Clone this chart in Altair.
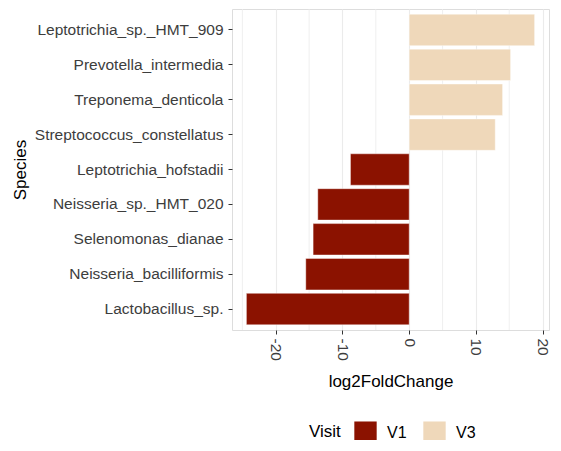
import altair as alt
import pandas as pd

species = [
    "Leptotrichia_sp._HMT_909",
    "Prevotella_intermedia",
    "Treponema_denticola",
    "Streptococcus_constellatus",
    "Leptotrichia_hofstadii",
    "Neisseria_sp._HMT_020",
    "Selenomonas_dianae",
    "Neisseria_bacilliformis",
    "Lactobacillus_sp.",
]
log2fc = [18.8, 15.2, 14.0, 12.9, -8.8, -13.7, -14.4, -15.5, -24.4]
visit = ["V3", "V3", "V3", "V3", "V1", "V1", "V1", "V1", "V1"]

major_ticks = [-20, -10, 0, 10, 20]
minor_ticks = [-25, -15, -5, 5, 15]
x_domain = [-26.56, 20.96]

visit_levels = ["V1", "V3"]
visit_colors = ["#8B1200", "#EFD8BA"]

df = pd.DataFrame({"Species": species, "log2FoldChange": log2fc, "Visit": visit})
minor_df = pd.DataFrame({"v": minor_ticks})

FONT = "Liberation Sans"
W, H = 317, 321

xscale = alt.Scale(domain=x_domain, nice=False, zero=False)
xaxis = alt.Axis(
    values=major_ticks,
    labelExpr="'' + datum.value",
    title="log2FoldChange",
    titleFontSize=17,
    titleFontWeight="normal",
    titleColor="black",
    titleY=51,
    titleBaseline="middle",
    labelFontSize=15.5,
    labelColor="#3D3D3D",
    labelAngle=90,
    labelAlign="left",
    labelBaseline="middle",
    labelPadding=4,
    tickSize=4,
    tickColor="#333333",
    gridColor="#EBEBEB",
    gridWidth=1.1,
    domain=False,
)

minor = alt.Chart(minor_df).mark_rule(color="#EBEBEB", strokeWidth=0.8).encode(
    x=alt.X("v:Q", scale=xscale, axis=xaxis, title="log2FoldChange")
)

bars = alt.Chart(df).mark_bar(stroke="white", strokeWidth=0.4).encode(
    y=alt.Y(
        "Species:N",
        sort=species,
        scale=alt.Scale(paddingInner=0.1, paddingOuter=0.15),
        axis=alt.Axis(
            title="Species",
            titleFontSize=17,
            titleFontWeight="normal",
            titleColor="black",
            titleX=-212,
            titleBaseline="middle",
            labelFontSize=15.5,
            labelColor="#3D3D3D",
            labelPadding=5,
            labelLimit=400,
            tickSize=4,
            tickColor="#333333",
            gridColor="#EBEBEB",
            gridWidth=1.1,
            domain=False,
        ),
    ),
    x=alt.X("log2FoldChange:Q", scale=xscale, axis=xaxis, title="log2FoldChange"),
    color=alt.Color(
        "Visit:N",
        scale=alt.Scale(domain=visit_levels, range=visit_colors),
        legend=alt.Legend(
            title="Visit",
            orient="none",
            legendX=77,
            legendY=412,
            direction="horizontal",
            titleOrient="left",
            titleFontSize=17,
            titleFontWeight="normal",
            titleColor="black",
            titlePadding=13,
            labelFontSize=16,
            labelColor="black",
            labelOffset=10,
            columnPadding=16,
            symbolType="square",
            symbolSize=500,
            symbolStrokeWidth=0,
            symbolOpacity=1,
        ),
    ),
)

chart = (
    alt.layer(minor, bars)
    .properties(
        width=W,
        height=H,
        autosize=alt.AutoSizeParams(type="none"),
        padding={"left": 224, "top": 1, "right": 4, "bottom": 110},
    )
    .configure_view(stroke="#333333", strokeWidth=1)
    .configure(font=FONT, background="white")
)

chart.save("out.html", embed_options={"renderer": "svg", "actions": False})
